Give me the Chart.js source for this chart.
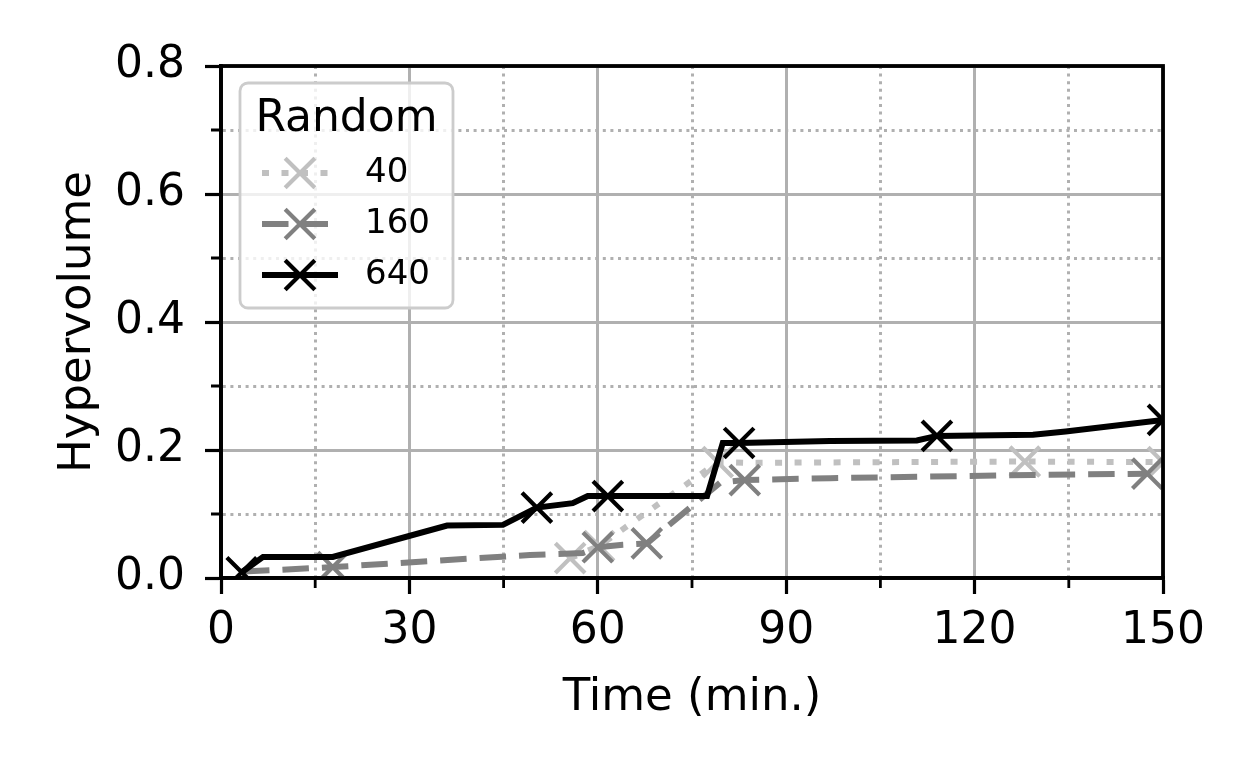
<!DOCTYPE html>
<html>
<head>
<meta charset="utf-8">
<script src="https://cdn.jsdelivr.net/npm/chart.js@4.4.1/dist/chart.umd.min.js"></script>
<style>
  html, body { margin: 0; padding: 0; background: #fff; }
  #wrap { width: 1255px; height: 775px; }
</style>
</head>
<body>
<div id="wrap"><canvas id="hvChart" width="1255" height="775"></canvas></div>
<script>
// hypervolume over time for random search, three population sizes

const legendTitle = 'Random';
const seriesNames = ['40', '160', '640'];

const time40 = [55.6, 60.2, 79.1, 83.8, 128, 150];
const hv40 = [0.031, 0.05, 0.181, 0.18, 0.182, 0.181];
const marks40 = [0, 1, 2, 4, 5];

const time160 = [3.5, 17.8, 49.2, 57.6, 60, 64, 67.8, 79.5, 83.4, 97, 129.3, 147.5];
const hv160 = [0.01, 0.017, 0.036, 0.039, 0.048, 0.052, 0.054, 0.149, 0.153, 0.156, 0.161, 0.163];
const marks160 = [1, 4, 6, 8, 11];

const time640 = [3.3, 6.7, 17.8, 36, 44.9, 50.3, 56, 58.4, 61.6, 77.4, 79.9, 82.5, 97, 110.8, 114, 129.3, 134.5, 150];
const hv640 = [0.009, 0.033, 0.033, 0.082, 0.083, 0.11, 0.117, 0.128, 0.128, 0.128, 0.211, 0.211, 0.214, 0.215, 0.222, 0.224, 0.229, 0.247];
const marks640 = [0, 5, 8, 11, 14, 17];

const xMajor = [0, 30, 60, 90, 120, 150];
const xMinor = [15, 45, 75, 105, 135];
const yMajor = [0, 0.2, 0.4, 0.6, 0.8];
const yMinor = [0.1, 0.3, 0.5, 0.7];

const FONT = 'DejaVu Sans';
const GRID = '#b0b0b0';
const MARK_R = 21;

function series(label, times, values, marks, color, dash, order) {
    return {
        label: label,
        data: times.map((t, i) => ({ x: t, y: values[i] })),
        borderColor: color,
        borderWidth: 6,
        borderDash: dash,
        pointStyle: 'crossRot',
        pointRadius: times.map((t, i) => marks.includes(i) ? MARK_R : 0),
        pointHoverRadius: 0,
        pointBorderColor: color,
        pointBackgroundColor: color,
        pointBorderWidth: 4.2,
        tension: 0,
        fill: false,
        clip: 0,
        order: order
    };
}

const datasets = [
    series(seriesNames[0], time40, hv40, marks40, '#c0c0c0', [7, 12.5], 2),
    series(seriesNames[1], time160, hv160, marks160, '#808080', [26.5, 13], 1),
    series(seriesNames[2], time640, hv640, marks640, '#000000', [], 0)
];

const isMinor = (scale, v) => {
    const list = scale.axis === 'x' ? xMinor : yMinor;
    return list.some(m => Math.abs(m - v) < 1e-9);
};

// top/right spines like matplotlib
const framePlugin = {
    id: 'frame',
    afterDatasetsDraw(chart) {
        const { ctx, chartArea: a } = chart;
        ctx.save();
        ctx.strokeStyle = '#000';
        ctx.lineWidth = 3.8;
        ctx.lineJoin = 'miter';
        ctx.strokeRect(a.left, a.top, a.right - a.left, a.bottom - a.top);
        ctx.restore();
    }
};

// shorter tick marks for the minor positions
const minorTickPlugin = {
    id: 'minorTicks',
    afterDraw(chart) {
        const ctx = chart.ctx;
        const xs = chart.scales.x, ys = chart.scales.y;
        ctx.save();
        ctx.strokeStyle = '#000';
        ctx.lineWidth = 2.8;
        ctx.beginPath();
        xMinor.forEach(v => {
            const px = xs.getPixelForValue(v);
            ctx.moveTo(px, ys.bottom);
            ctx.lineTo(px, ys.bottom + 10);
        });
        yMinor.forEach(v => {
            const py = ys.getPixelForValue(v);
            ctx.moveTo(xs.left, py);
            ctx.lineTo(xs.left - 10, py);
        });
        ctx.stroke();
        ctx.restore();
    }
};

// matplotlib style legend box with line + marker samples
const legendPlugin = {
    id: 'boxLegend',
    afterDraw(chart) {
        const ctx = chart.ctx;
        const a = chart.chartArea;
        const x0 = a.left + 19, y0 = a.top + 17, w = 213, h = 225;
        ctx.save();
        ctx.beginPath();
        ctx.roundRect(x0, y0, w, h, 8);
        ctx.fillStyle = 'rgba(255,255,255,0.8)';
        ctx.fill();
        ctx.strokeStyle = '#cccccc';
        ctx.lineWidth = 2.8;
        ctx.stroke();

        ctx.fillStyle = '#000';
        ctx.font = '44px "' + FONT + '"';
        ctx.textAlign = 'center';
        ctx.textBaseline = 'middle';
        ctx.fillText(legendTitle, x0 + w / 2, y0 + 37);

        ctx.font = '34px "' + FONT + '"';
        ctx.textAlign = 'left';
        chart.data.datasets.forEach((ds, i) => {
            const cy = y0 + 90 + i * 51;
            const lx0 = x0 + 22, lx1 = x0 + 98, mx = (lx0 + lx1) / 2;
            ctx.strokeStyle = ds.borderColor;
            ctx.lineWidth = ds.borderWidth;
            ctx.setLineDash(ds.borderDash);
            ctx.beginPath();
            ctx.moveTo(lx0, cy);
            ctx.lineTo(lx1, cy);
            ctx.stroke();
            ctx.setLineDash([]);
            const d = MARK_R * Math.SQRT1_2;
            ctx.lineWidth = ds.pointBorderWidth;
            ctx.beginPath();
            ctx.moveTo(mx - d, cy - d);
            ctx.lineTo(mx + d, cy + d);
            ctx.moveTo(mx - d, cy + d);
            ctx.lineTo(mx + d, cy - d);
            ctx.stroke();
            ctx.fillStyle = '#000';
            ctx.fillText(ds.label, x0 + 125, cy);
        });
        ctx.restore();
    }
};

function axisOptions(axis, min, max, ticksList, fmt, fitSize, title, titlePad, tickPad) {
    return {
        type: 'linear',
        min: min,
        max: max,
        afterBuildTicks: s => { s.ticks = ticksList.map(v => ({ value: v })); },
        afterFit: s => {
            if (axis === 'x') s.height = fitSize; else s.width = fitSize;
        },
        ticks: {
            autoSkip: false,
            maxRotation: 0,
            padding: tickPad,
            color: '#000',
            font: { family: FONT, size: 44 },
            callback: function (v) { return isMinor(this, v) ? '' : fmt(v); }
        },
        grid: {
            color: GRID,
            lineWidth: 3,
            tickLength: 16,
            tickWidth: 3.2,
            tickColor: c => (c.tick && isMinor(c.scale, c.tick.value)) ? 'rgba(0,0,0,0)' : '#000'
        },
        border: {
            display: true,
            color: '#000',
            width: 3.8,
            dash: c => (c.tick && isMinor(c.scale, c.tick.value)) ? [3, 4.6] : []
        },
        title: {
            display: true,
            text: title,
            color: '#000',
            font: { family: FONT, size: 45 },
            padding: titlePad
        }
    };
}

new Chart(document.getElementById('hvChart'), {
    type: 'line',
    data: { datasets: datasets },
    options: {
        responsive: false,
        animation: false,
        devicePixelRatio: 1,
        layout: { padding: { top: 66, right: 92, left: 0, bottom: 0 } },
        plugins: {
            legend: { display: false },
            tooltip: { enabled: false }
        },
        scales: {
            x: axisOptions('x', 0, 150, xMajor.concat(xMinor).sort((p, q) => p - q),
                v => String(v), 197, 'Time (min.)', { top: 0, bottom: 50 }, 11),
            y: axisOptions('y', 0, 0.8, yMajor.concat(yMinor).sort((p, q) => p - q),
                v => v.toFixed(1), 221, 'Hypervolume', { top: 51, bottom: 0 }, 20)
        }
    },
    plugins: [framePlugin, minorTickPlugin, legendPlugin]
});
</script>
</body>
</html>
